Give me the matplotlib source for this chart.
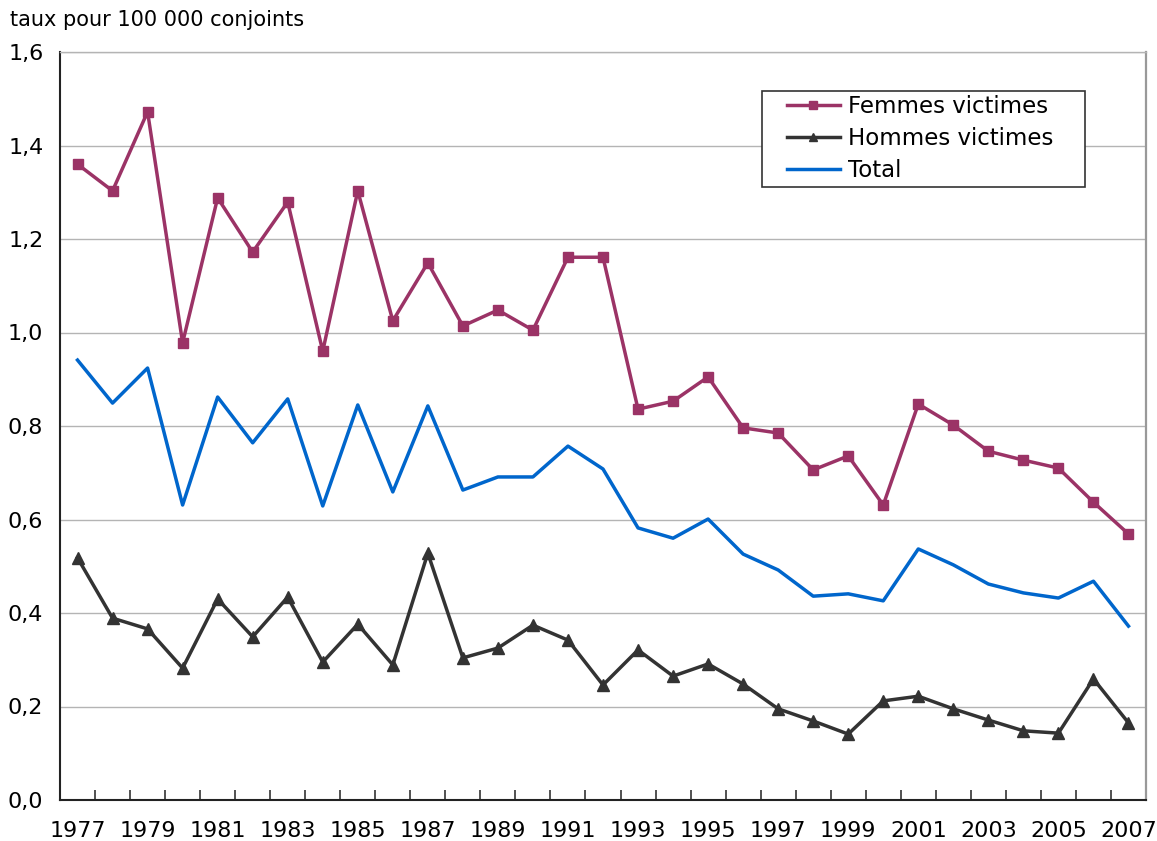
import matplotlib
matplotlib.use("Agg")
import matplotlib.pyplot as plt
from matplotlib.patches import Rectangle
import numpy as np

years = list(range(1977, 2008))
femmes = [1.36, 1.303, 1.472, 0.978, 1.288, 1.172, 1.279, 0.960, 1.303, 1.025,
          1.149, 1.014, 1.048, 1.005, 1.161, 1.161, 0.836, 0.853, 0.905, 0.796,
          0.785, 0.706, 0.736, 0.631, 0.847, 0.802, 0.746, 0.727, 0.710, 0.637, 0.569]
hommes = [0.518, 0.389, 0.366, 0.282, 0.430, 0.349, 0.434, 0.295, 0.376, 0.289,
          0.528, 0.304, 0.325, 0.374, 0.342, 0.246, 0.321, 0.265, 0.291, 0.248,
          0.195, 0.169, 0.141, 0.212, 0.222, 0.195, 0.171, 0.148, 0.143, 0.259, 0.165]
total = [0.941, 0.849, 0.924, 0.631, 0.862, 0.764, 0.858, 0.629, 0.845, 0.659,
         0.843, 0.663, 0.691, 0.691, 0.757, 0.708, 0.582, 0.560, 0.601, 0.526,
         0.492, 0.436, 0.441, 0.426, 0.537, 0.503, 0.462, 0.443, 0.432, 0.468, 0.372]
y_ticks = [0.0, 0.2, 0.4, 0.6, 0.8, 1.0, 1.2, 1.4, 1.6]

plt.rcParams['font.family'] = ['DejaVu Sans']

W, H = 1157, 841
fig = plt.figure(figsize=(W / 100, H / 100), dpi=100)
ax = fig.add_axes([60/W, 41/H, (1146-60)/W, (800-52)/H])

x = np.arange(len(years))
ax.plot(x, femmes, color='#9B3366', lw=2.5, marker='s', ms=7.5, label='Femmes victimes', zorder=3)
ax.plot(x, hommes, color='#333333', lw=2.5, marker='^', ms=9, label='Hommes victimes', zorder=3)
ax.plot(x, total, color='#0066CC', lw=2.5, label='Total', zorder=3)

ax.set_xlim(-0.5, len(years) - 0.5)
ax.set_ylim(0, 1.6)
ax.set_yticks(y_ticks)
ax.set_yticklabels([f"{v:.1f}".replace('.', ',') for v in y_ticks], fontsize=16)
ax.tick_params(axis='y', length=0, pad=12)
ax.grid(axis='y', color='#B4B4B4', lw=1.0)
ax.set_axisbelow(True)

ax.set_xticks(x[::2])
ax.set_xticklabels([str(y) for y in years[::2]], fontsize=16)
ax.set_xticks(np.arange(-0.5, len(years) + 0.5, 1), minor=True)
ax.tick_params(axis='x', which='major', length=0, pad=15)
ax.tick_params(axis='x', which='minor', direction='in', length=7, width=1.2, color='#333333')

for s in ['left', 'bottom']:
    ax.spines[s].set_color('#222222')
    ax.spines[s].set_linewidth(1.5)
ax.spines['top'].set_color('#B4B4B4')
ax.spines['top'].set_linewidth(1.0)
ax.spines['right'].set_color('#999999')
ax.spines['right'].set_linewidth(1.6)

# legend frame box (white, above gridlines) and legend entries
frame = Rectangle((762/W, 1 - 187/H), (1085-762)/W, (187-91)/H,
                  transform=fig.transFigure, facecolor='white',
                  edgecolor='#333333', lw=1.2, zorder=4)
ax.add_artist(frame)
leg = ax.legend(loc='upper left', bbox_to_anchor=(787/W, 1 - 95/H), bbox_transform=fig.transFigure,
                fontsize=16.5, frameon=False, handlelength=2.3,
                borderpad=0.0, labelspacing=0.4, handletextpad=0.35, borderaxespad=0)
leg.set_zorder(5)
for h in leg.legend_handles:
    h.set_markersize(6)

fig.text(10/W, 1 - 20/H, 'taux pour 100 000 conjoints', fontsize=15, va='center', ha='left')

fig.savefig('out.png', dpi=100)
